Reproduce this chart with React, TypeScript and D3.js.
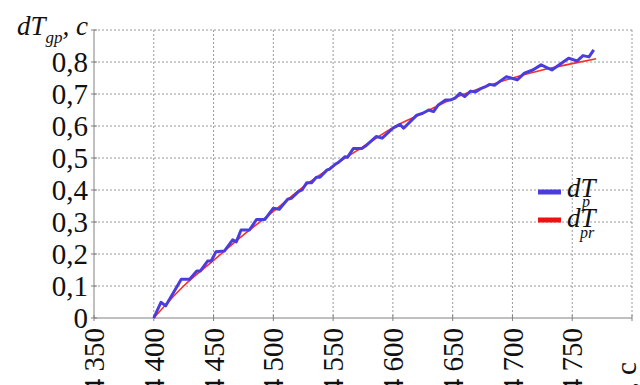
import * as d3 from "d3";

// measured (blue) and predicted (red) series
const blueT = [4400, 4406, 4410, 4423, 4430, 4436, 4439, 4445, 4448, 4452, 4459, 4466, 4469, 4473, 4480, 4486, 4493, 4500, 4505, 4512, 4515, 4521, 4524, 4528, 4532, 4536, 4539, 4545, 4547, 4552, 4554, 4560, 4562, 4567, 4574, 4578, 4586, 4591, 4600, 4606, 4609, 4620, 4625, 4630, 4634, 4638, 4644, 4648, 4652, 4656, 4660, 4665, 4669, 4673, 4677, 4681, 4685, 4690, 4695, 4704, 4710, 4717, 4724, 4733, 4741, 4747, 4754, 4759, 4764, 4768];
const blueV = [0, 0.049, 0.038, 0.121, 0.121, 0.147, 0.147, 0.178, 0.178, 0.207, 0.209, 0.244, 0.238, 0.275, 0.275, 0.308, 0.308, 0.343, 0.34, 0.371, 0.374, 0.395, 0.4, 0.423, 0.423, 0.44, 0.44, 0.463, 0.465, 0.481, 0.485, 0.504, 0.502, 0.53, 0.53, 0.54, 0.567, 0.562, 0.593, 0.605, 0.593, 0.634, 0.64, 0.65, 0.645, 0.666, 0.681, 0.681, 0.687, 0.702, 0.692, 0.709, 0.706, 0.716, 0.722, 0.73, 0.727, 0.741, 0.754, 0.744, 0.765, 0.775, 0.791, 0.775, 0.796, 0.812, 0.803, 0.82, 0.816, 0.838];

const redT = [4400, 4425, 4450, 4475, 4500, 4525, 4550, 4575, 4600, 4625, 4650, 4675, 4700, 4725, 4750, 4770];
const redV = [0, 0.1, 0.18, 0.26, 0.333, 0.41, 0.475, 0.535, 0.595, 0.64, 0.685, 0.72, 0.75, 0.775, 0.795, 0.81];

const xTicks = [4350, 4400, 4450, 4500, 4550, 4600, 4650, 4700, 4750, 4800];
const yTicks = [0, 0.1, 0.2, 0.3, 0.4, 0.5, 0.6, 0.7, 0.8, 0.9];
const yLabels = ["0", "0,1", "0,2", "0,3", "0,4", "0,5", "0,6", "0,7", "0,8"];

const W = 640;
const H = 385;
const serif = { fontFamily: "Liberation Serif" };
const serifIt = { fontFamily: "Liberation Serif", fontStyle: "italic" as const };

export default function App() {
  const x = d3.scaleLinear().domain([4350, 4800]).range([94, 632]);
  const y = d3.scaleLinear().domain([0, 0.9]).range([318, 30]);

  const bluePath = d3.line<number>()
    .x((d) => x(d))
    .y((d, i) => y(blueV[i]))(blueT);
  const redPath = d3.line<number>()
    .x((d) => x(d))
    .y((d, i) => y(redV[i]))
    .curve(d3.curveMonotoneX)(redT);

  return (
    <svg width={W} height={H} style={{ position: "absolute", left: 0, top: 0, background: "#fff" }}>
      {/* grid */}
      {xTicks.slice(1).map((t) => (
        <line key={"gx" + t} x1={x(t)} x2={x(t)} y1={y(0.9)} y2={y(0)}
          stroke="#9a9a9a" strokeDasharray="2,2" />
      ))}
      {yTicks.slice(1).map((v) => (
        <line key={"gy" + v} x1={x(4350)} x2={x(4800)} y1={y(v)} y2={y(v)}
          stroke="#9a9a9a" strokeDasharray="2,2" />
      ))}

      {/* axes */}
      <line x1={x(4350)} x2={x(4800)} y1={y(0)} y2={y(0)} stroke="#808080" />
      <line x1={x(4350)} x2={x(4350)} y1={y(0)} y2={y(0.9)} stroke="#808080" />
      {xTicks.map((t) => (
        <line key={"tx" + t} x1={x(t)} x2={x(t)} y1={y(0) - 3} y2={y(0) + 3} stroke="#808080" />
      ))}
      {yTicks.map((v) => (
        <line key={"ty" + v} x1={x(4350) - 3} x2={x(4350) + 3} y1={y(v)} y2={y(v)} stroke="#808080" />
      ))}

      {/* y labels */}
      {yLabels.map((s, i) => (
        <text key={"ly" + s} x={88} y={y(yTicks[i])} dy="0.35em" textAnchor="end"
          fontSize={29} fill="#111" style={serif}>{s}</text>
      ))}

      {/* x labels */}
      {xTicks.slice(0, 9).map((t) => (
        <text key={"lx" + t} transform={`translate(${x(t)},328) rotate(-90)`} dy="0.35em"
          textAnchor="end" fontSize={29} fill="#111" style={serif}>
          {"4 " + String(t).slice(1)}
        </text>
      ))}
      <text transform={`translate(626,362) rotate(-90)`} dy="0.35em" textAnchor="end"
        fontSize={29} fill="#111" style={serif}>
        <tspan style={{ fontStyle: "italic" }}>t</tspan>, c
      </text>

      {/* y axis title */}
      <text x={17} y={35} fontSize={27} fill="#111" style={serifIt}>
        dT<tspan fontSize={17} dy={8}>gp</tspan><tspan dy={-8}>, c</tspan>
      </text>

      {/* series */}
      <path d={redPath ?? ""} fill="none" stroke="#ff2a2a" strokeWidth={1.6} />
      <path d={bluePath ?? ""} fill="none" stroke="#4a3ddc" strokeWidth={3} strokeLinejoin="round" />

      {/* legend */}
      <line x1={538} x2={561} y1={192} y2={192} stroke="#4a3ddc" strokeWidth={5} />
      <line x1={538} x2={561} y1={220} y2={220} stroke="#ee1111" strokeWidth={5} />
      <text x={567} y={197} fontSize={27} fill="#111" style={serifIt}>dT</text>
      <text x={582} y={207} fontSize={16} fill="#111" style={serifIt}>p</text>
      <text x={567} y={227} fontSize={27} fill="#111" style={serifIt}>dT</text>
      <text x={580} y={238} fontSize={16} fill="#111" style={serifIt}>pr</text>
    </svg>
  );
}
